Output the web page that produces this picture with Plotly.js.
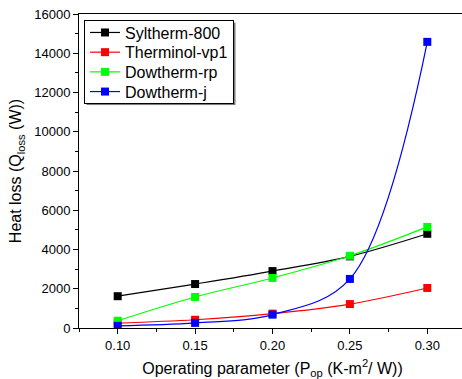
<!DOCTYPE html>
<html><head><meta charset="utf-8">
<script src="https://cdn.plot.ly/plotly-3.0.1.min.js"></script>
<style>html,body{margin:0;padding:0;overflow:hidden;background:#fff}#c{width:466px;height:379px}</style>
</head><body><div id="c"></div>
<script>
const xVals = [0.10, 0.15, 0.20, 0.25, 0.30];
const seriesNames = ["Syltherm-800", "Therminol-vp1", "Dowtherm-rp", "Dowtherm-j"];
const syltherm = [1620, 2240, 2900, 3650, 4800];
const therminol = [250, 420, 730, 1220, 2040];
const dowthermRp = [370, 1580, 2550, 3680, 5150];
const dowthermJ = [110, 260, 680, 2500, 14580];
const colors = ["#000000", "#ff0000", "#00ff00", "#0000ff"];
const values = [syltherm, therminol, dowthermRp, dowthermJ];

const traces = values.map((v, i) => ({
  x: xVals, y: v, name: seriesNames[i], type: "scatter", mode: "lines+markers",
  line: {color: colors[i], width: 1.2, shape: "spline", smoothing: 1},
  marker: {color: colors[i], symbol: "square", size: 8}
}));

const font = "Arial, 'Liberation Sans', sans-serif";
const layout = {
  width: 466, height: 379,
  margin: {l: 79, r: 0, t: 14, b: 51},
  paper_bgcolor: "#fff", plot_bgcolor: "#fff",
  font: {family: font, color: "#000", size: 13},
  showlegend: true,
  legend: {x: 0.013, y: 0.981, xanchor: "left", yanchor: "top",
    bordercolor: "#000", borderwidth: 1, bgcolor: "#fff",
    font: {size: 16, family: font}, tracegroupgap: 0},
  xaxis: {range: [0.075, 0.325], dtick: 0.05, tick0: 0.1, tickformat: ".2f",
    ticks: "outside", ticklen: 5, tickcolor: "#000", showline: true, linecolor: "#000", linewidth: 1,
    mirror: true, showgrid: false, zeroline: false,
    minor: {dtick: 0.025, ticks: "outside", ticklen: 3, tickcolor: "#000"},
    tickfont: {size: 13},
    title: {text: "Operating parameter (P<sub>op</sub> (K-m<sup>2</sup>/ W))", font: {size: 16}, standoff: 11}},
  yaxis: {range: [0, 16000], dtick: 2000, tickformat: "d",
    ticks: "outside", ticklen: 5, tickcolor: "#000", showline: true, linecolor: "#000", linewidth: 1,
    mirror: true, showgrid: false, zeroline: false,
    minor: {dtick: 1000, ticks: "outside", ticklen: 3, tickcolor: "#000"},
    tickfont: {size: 13},
    title: {text: "Heat loss (Q<sub>loss</sub> (W))", font: {size: 16}, standoff: 8}}
};

function tightenLegend() {
  const gd = document.getElementById("c");
  const leg = gd.querySelector("g.legend");
  if (!leg) return;
  const items = leg.querySelectorAll("g.traces");
  const step = 19.7, first = 12.5;
  items.forEach((g, i) => {
    const m = /translate\(([-\d.]+)[ ,]+([-\d.]+)\)/.exec(g.getAttribute("transform") || "");
    const tx = m ? parseFloat(m[1]) : 0;
    g.setAttribute("transform", "translate(" + tx + "," + (first + i * step) + ")");
  });
  const bg = leg.querySelector("rect.bg");
  if (bg) {
    const h = first + (items.length - 1) * step + 11;
    const w = 149;
    bg.setAttribute("height", h);
    bg.setAttribute("width", w);
    const sh = document.createElementNS("http://www.w3.org/2000/svg", "rect");
    sh.setAttribute("x", 2.5); sh.setAttribute("y", 2.5);
    sh.setAttribute("width", w); sh.setAttribute("height", h);
    sh.setAttribute("style", "fill:#808080;stroke:none");
    bg.parentNode.insertBefore(sh, bg);
  }
}
Plotly.newPlot("c", traces, layout, {displayModeBar: false, staticPlot: true}).then(tightenLegend);
</script></body></html>
